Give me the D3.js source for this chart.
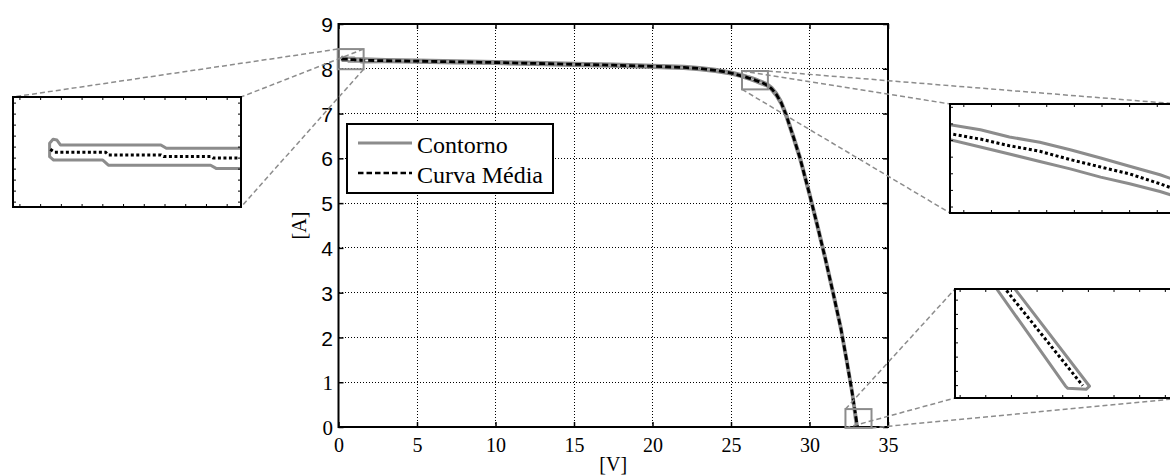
<!DOCTYPE html>
<html>
<head>
<meta charset="utf-8">
<script src="https://cdn.jsdelivr.net/npm/d3@7"></script>
<style>
  body { margin: 0; background: #fff; }
  svg { display: block; }
</style>
</head>
<body>
<svg id="chart" width="1170" height="476"></svg>
<script>
// axis ticks
const X_TICKS = [0, 5, 10, 15, 20, 25, 30, 35];
const Y_TICKS = [0, 1, 2, 3, 4, 5, 6, 7, 8, 9];

// mean I-V curve ("Curva Média")
const MEAN_V = [0.22, 0.25, 0.62, 0.64, 1.02, 1.04, 1.38, 1.40, 1.6, 3, 5, 7.5, 10, 12.5, 15, 17.5, 20, 22, 23, 24, 25,
    25.70, 25.92, 26.13, 26.35, 26.57, 26.79, 27.0, 27.22, 27.35, 27.6, 27.9, 28.2, 28.5, 29.0, 29.4, 30.0, 30.5,
    31.0, 31.5, 32.0, 32.36, 32.714, 33.05];
const MEAN_I = [8.226, 8.214, 8.214, 8.203, 8.203, 8.197, 8.197, 8.190, 8.19, 8.18, 8.17, 8.155, 8.14, 8.12, 8.10, 8.08,
    8.055, 8.03, 8.005, 7.965, 7.905, 7.838, 7.818, 7.793, 7.772, 7.741, 7.713, 7.687, 7.650, 7.625, 7.55, 7.42, 7.24,
    6.98, 6.45, 6.0, 5.2, 4.5, 3.77, 3.0, 2.2, 1.5, 0.772, 0.0];

// envelope outline ("Contorno"), closed polygon, clockwise from the left end
const CONTOUR_V = [0.244, 0.215, 0.215, 0.24, 0.268, 0.293, 1.02, 1.06, 1.6, 3, 5, 7.5, 10, 12.5, 15, 17.5, 20, 22, 23,
    24, 25, 25.70, 25.92, 26.13, 26.35, 26.57, 26.79, 27.0, 27.22, 27.35, 27.63, 27.93, 28.23, 28.53, 29.03, 29.43,
    30.03, 30.53, 31.03, 31.53, 32.03, 32.39, 32.753, 33.08, 33.065, 32.985, 32.975, 32.673, 32.33, 31.97, 31.47,
    30.97, 30.47, 29.97, 29.37, 28.97, 28.47, 28.17, 27.87, 27.57, 27.35, 27.22, 27.0, 26.79, 26.57, 26.35, 26.13,
    25.92, 25.70, 25, 24, 23, 22, 20, 17.5, 15, 12.5, 10, 7.5, 5, 3, 1.6, 1.42, 1.38, 0.64, 0.6];
const CONTOUR_I = [8.182, 8.196, 8.251, 8.267, 8.264, 8.244, 8.244, 8.230, 8.230, 8.215, 8.20, 8.185, 8.17, 8.15, 8.13,
    8.11, 8.085, 8.06, 8.035, 7.995, 7.935, 7.872, 7.853, 7.826, 7.806, 7.778, 7.747, 7.716, 7.684, 7.66, 7.58, 7.45,
    7.27, 7.01, 6.48, 6.03, 5.23, 4.53, 3.80, 3.03, 2.23, 1.53, 0.78, -0.005, -0.03, -0.022, -0.005, 0.78, 1.47, 2.17,
    2.97, 3.74, 4.47, 5.17, 5.97, 6.42, 6.95, 7.21, 7.39, 7.52, 7.60, 7.621, 7.65, 7.675, 7.706, 7.734, 7.762, 7.788,
    7.816, 7.875, 7.935, 7.975, 8.0, 8.025, 8.05, 8.07, 8.09, 8.11, 8.125, 8.14, 8.15, 8.148, 8.148, 8.161, 8.161,
    8.182];

const LEGEND_LABELS = ['Contorno', 'Curva Média'];

// zoomed regions [v0, v1, i0, i1]: marker drawn on the main axes, and what each inset shows
const ZOOM_RECTS = [[-0.05, 1.6, 7.99, 8.44], [25.7, 27.35, 7.54, 7.95], [32.29, 33.95, -0.02, 0.40]];
const ZOOM_VIEWS = [[-0.05, 1.6, 7.99, 8.44], [25.7, 27.35, 7.54, 7.95], [32.49, 33.49, -0.1, 0.78]];

const GRAY = '#8c8c8c';
const SERIF = '"Liberation Serif", "Times New Roman", serif';
const SANS = '"Liberation Sans", Arial, sans-serif';

const svg = d3.select('#chart');
const plot = { left: 338.5, right: 888, top: 24, bottom: 427 };

const x = d3.scaleLinear()
    .domain([X_TICKS[0], X_TICKS[X_TICKS.length - 1]])
    .range([plot.left, plot.right]);
const y = d3.scaleLinear()
    .domain([Y_TICKS[0], Y_TICKS[Y_TICKS.length - 1]])
    .range([plot.bottom, plot.top]);

const meanPts = d3.zip(MEAN_V, MEAN_I);
const contourPts = d3.zip(CONTOUR_V, CONTOUR_I);

const openLine = (sx, sy) => d3.line().x((d) => sx(d[0])).y((d) => sy(d[1]));
const closedLine = (sx, sy) => d3.line().x((d) => sx(d[0])).y((d) => sy(d[1])).curve(d3.curveLinearClosed);

// grid
const grid = svg.append('g')
    .attr('stroke', '#000')
    .attr('stroke-width', 1)
    .attr('stroke-dasharray', '1,2')
    .attr('shape-rendering', 'crispEdges');
grid.selectAll('line.gx')
    .data(X_TICKS.slice(1, -1))
    .join('line')
    .attr('class', 'gx')
    .attr('x1', (d) => x(d)).attr('x2', (d) => x(d))
    .attr('y1', plot.top).attr('y2', plot.bottom);
grid.selectAll('line.gy')
    .data(Y_TICKS.slice(1, -1))
    .join('line')
    .attr('class', 'gy')
    .attr('x1', plot.left).attr('x2', plot.right)
    .attr('y1', (d) => y(d)).attr('y2', (d) => y(d));

// curves
svg.append('clipPath').attr('id', 'clip-main')
    .append('rect')
    .attr('x', plot.left).attr('y', plot.top)
    .attr('width', plot.right - plot.left).attr('height', plot.bottom - plot.top);
const curves = svg.append('g').attr('clip-path', 'url(#clip-main)');
curves.append('path')
    .datum(contourPts)
    .attr('d', closedLine(x, y))
    .attr('fill', 'none')
    .attr('stroke', GRAY)
    .attr('stroke-width', 2.5)
    .attr('stroke-linejoin', 'round');
curves.append('path')
    .datum(meanPts)
    .attr('d', openLine(x, y))
    .attr('fill', 'none')
    .attr('stroke', '#000')
    .attr('stroke-width', 2.8)
    .attr('stroke-dasharray', '6,3');

// axes
svg.append('g')
    .attr('transform', `translate(0,${plot.bottom})`)
    .call(d3.axisBottom(x).tickValues(X_TICKS).tickSize(-5).tickSizeOuter(0))
    .call((g) => g.select('.domain').remove())
    .call((g) => g.selectAll('.tick line').attr('stroke-width', 1.5))
    .call((g) => g.selectAll('.tick text')
        .attr('y', 25).attr('dy', null)
        .attr('font-family', SERIF).attr('font-size', 20).attr('fill', '#000'));
svg.append('g')
    .attr('transform', `translate(${plot.left},0)`)
    .call(d3.axisLeft(y).tickValues(Y_TICKS).tickSize(-5).tickSizeOuter(0).tickPadding(5.5))
    .call((g) => g.select('.domain').remove())
    .call((g) => g.selectAll('.tick line').attr('stroke-width', 1.5))
    .call((g) => g.selectAll('.tick text')
        .attr('dy', '0.36em')
        .attr('font-family', (d) => (d <= 1 ? SERIF : SANS))
        .attr('font-size', 21).attr('fill', '#000'));
svg.append('g')
    .attr('transform', `translate(0,${plot.top})`)
    .call(d3.axisTop(x).tickValues(X_TICKS).tickSize(-5).tickSizeOuter(0).tickFormat(''))
    .call((g) => g.select('.domain').remove())
    .call((g) => g.selectAll('.tick line').attr('stroke-width', 1.5));
svg.append('g')
    .attr('transform', `translate(${plot.right},0)`)
    .call(d3.axisRight(y).tickValues(Y_TICKS).tickSize(-5).tickSizeOuter(0).tickFormat(''))
    .call((g) => g.select('.domain').remove())
    .call((g) => g.selectAll('.tick line').attr('stroke-width', 1.5));

svg.append('rect')
    .attr('x', plot.left).attr('y', plot.top)
    .attr('width', plot.right - plot.left).attr('height', plot.bottom - plot.top)
    .attr('fill', 'none').attr('stroke', '#000').attr('stroke-width', 2);

// axis titles
svg.append('text')
    .attr('x', (plot.left + plot.right) / 2).attr('y', 471)
    .attr('text-anchor', 'middle')
    .attr('font-family', SERIF).attr('font-size', 20)
    .text('[V]');
svg.append('text')
    .attr('transform', `translate(306,${(plot.top + plot.bottom) / 2}) rotate(-90)`)
    .attr('text-anchor', 'middle')
    .attr('font-family', SERIF).attr('font-size', 20)
    .text('[A]');

// legend
const legend = svg.append('g');
legend.append('rect')
    .attr('x', 347).attr('y', 124).attr('width', 206).attr('height', 69)
    .attr('fill', '#fff').attr('stroke', '#000').attr('stroke-width', 2);
const legendItems = legend.selectAll('g.item')
    .data(LEGEND_LABELS)
    .join('g')
    .attr('class', 'item')
    .attr('transform', (d, i) => `translate(0,${143 + i * 30})`);
legendItems.append('line')
    .attr('x1', 358).attr('x2', 412)
    .attr('stroke', (d, i) => (i === 0 ? GRAY : '#000'))
    .attr('stroke-width', (d, i) => (i === 0 ? 3 : 2.6))
    .attr('stroke-dasharray', (d, i) => (i === 0 ? null : '5.5,3'));
legendItems.append('text')
    .attr('x', 417).attr('y', 9.5)
    .attr('font-family', SERIF).attr('font-size', 24)
    .text((d) => d);

// zoom markers on the main axes
const markerBox = (r) => ({ x: x(r[0]), y: y(r[3]), w: x(r[1]) - x(r[0]), h: y(r[2]) - y(r[3]) });
svg.append('g')
    .selectAll('rect')
    .data(ZOOM_RECTS)
    .join('rect')
    .attr('x', (d) => markerBox(d).x).attr('y', (d) => markerBox(d).y)
    .attr('width', (d) => markerBox(d).w).attr('height', (d) => markerBox(d).h)
    .attr('fill', 'none').attr('stroke', GRAY).attr('stroke-width', 2);

const insets = [
    { box: { x: 13, y: 97, w: 228, h: 110 }, step: [0.15, 0.045], links: ['tl', 'tr', 'br'] },
    { box: { x: 950, y: 104, w: 228, h: 109 }, step: [0.2, 0.0625], links: ['tl', 'tr', 'bl'] },
    { box: { x: 955, y: 289, w: 228, h: 109 }, step: [0.1125, 0.115], links: ['tl', 'bl', 'br'] },
];

const corner = (b, c) => ({
    x: c[1] === 'l' ? b.x : b.x + b.w,
    y: c[0] === 't' ? b.y : b.y + b.h,
});

// dashed link lines
const links = svg.append('g')
    .attr('stroke', GRAY).attr('stroke-width', 1.5).attr('stroke-dasharray', '5,3');
insets.forEach((inset, k) => {
    const m = markerBox(ZOOM_RECTS[k]);
    inset.links.forEach((c) => {
        const a = corner(m, c), b = corner(inset.box, c);
        links.append('line').attr('x1', a.x).attr('y1', a.y).attr('x2', b.x).attr('y2', b.y);
    });
});

const drawInset = ({ box, step }, view, k) => {
    const sx = d3.scaleLinear().domain([view[0], view[1]]).range([box.x, box.x + box.w]);
    const sy = d3.scaleLinear().domain([view[2], view[3]]).range([box.y + box.h, box.y]);
    const g = svg.append('g');
    g.append('clipPath').attr('id', 'clip-inset-' + k)
        .append('rect').attr('x', box.x).attr('y', box.y).attr('width', box.w).attr('height', box.h);
    g.append('rect')
        .attr('x', box.x).attr('y', box.y).attr('width', box.w).attr('height', box.h)
        .attr('fill', '#fff');
    const inner = g.append('g').attr('clip-path', `url(#clip-inset-${k})`);
    inner.append('path')
        .datum(contourPts)
        .attr('d', closedLine(sx, sy))
        .attr('fill', 'none').attr('stroke', GRAY).attr('stroke-width', 3)
        .attr('stroke-linejoin', 'round');
    inner.append('path')
        .datum(meanPts)
        .attr('d', openLine(sx, sy))
        .attr('fill', 'none').attr('stroke', '#000').attr('stroke-width', 3)
        .attr('stroke-dasharray', '3,2.5');

    const xt = d3.range(Math.ceil(view[0] / step[0]) * step[0], view[1], step[0]);
    const yt = d3.range(Math.ceil(view[2] / step[1]) * step[1], view[3], step[1]);
    const ticks = g.append('g').attr('stroke', '#000').attr('stroke-width', 1);
    xt.forEach((v) => {
        ticks.append('line').attr('x1', sx(v)).attr('x2', sx(v)).attr('y1', box.y).attr('y2', box.y + 3);
        ticks.append('line').attr('x1', sx(v)).attr('x2', sx(v)).attr('y1', box.y + box.h).attr('y2', box.y + box.h - 3);
    });
    yt.forEach((v) => {
        ticks.append('line').attr('x1', box.x).attr('x2', box.x + 3).attr('y1', sy(v)).attr('y2', sy(v));
        ticks.append('line').attr('x1', box.x + box.w).attr('x2', box.x + box.w - 3).attr('y1', sy(v)).attr('y2', sy(v));
    });
    g.append('rect')
        .attr('x', box.x).attr('y', box.y).attr('width', box.w).attr('height', box.h)
        .attr('fill', 'none').attr('stroke', '#000').attr('stroke-width', 2);
};

insets.forEach((inset, k) => drawInset(inset, ZOOM_VIEWS[k], k));
</script>
</body>
</html>
